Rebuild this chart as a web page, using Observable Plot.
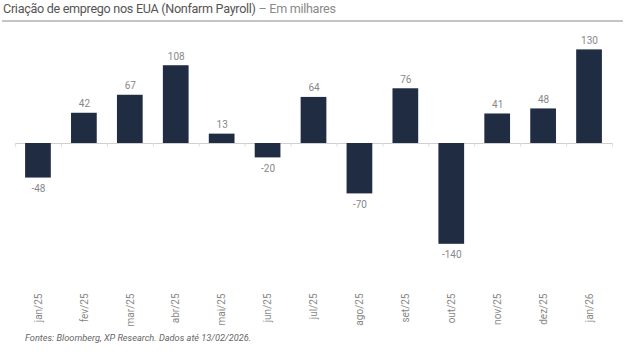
<!DOCTYPE html>
<html>
<head>
<meta charset="utf-8">
<script src="https://cdn.jsdelivr.net/npm/d3@7"></script>
<script src="https://cdn.jsdelivr.net/npm/@observablehq/plot@0.6"></script>
<style>
  html, body { margin: 0; padding: 0; background: #fff; }
  #wrap { position: relative; width: 638px; height: 354px; overflow: hidden; font-family: Roboto, "Noto Sans", sans-serif; }
  #chart { position: absolute; left: 0; top: 0; }
  #title { position: absolute; left: 3px; top: 1px; font-size: 12.6px; letter-spacing: -0.3px; color: #555; white-space: nowrap; }
  #title span { color: #8a8a8a; }
  #rule { position: absolute; left: 2px; top: 19.5px; width: 621px; height: 2px; background: #c4c4c4; }
  #caption { position: absolute; left: 25px; top: 332px; font-size: 9.2px; font-style: italic; color: #666; white-space: nowrap; }
</style>
</head>
<body>
<div id="wrap">
  <div id="chart"></div>
  <div id="title">Criação de emprego nos EUA (Nonfarm Payroll) <span>– Em milhares</span></div>
  <div id="rule"></div>
  <div id="caption">Fontes: Bloomberg, XP Research. Dados até 13/02/2026.</div>
</div>
<script>
const months = ["jan/25","fev/25","mar/25","abr/25","mai/25","jun/25","jul/25","ago/25","set/25","out/25","nov/25","dez/25","jan/26"];
const values = [-48, 42, 67, 108, 13, -20, 64, -70, 76, -140, 41, 48, 130];

const data = months.map((m, i) => ({month: m, value: values[i]}));
const pos = data.filter(d => d.value >= 0);
const neg = data.filter(d => d.value < 0);

const barColor = "#1f2c42";

const chart = Plot.plot({
  width: 638,
  height: 354,
  marginLeft: 15,
  marginRight: 26,
  marginTop: 35,
  marginBottom: 67,
  style: {fontFamily: "Roboto, 'Noto Sans', sans-serif", fontSize: "10px", color: "#888", background: "transparent"},
  x: {domain: months, paddingInner: 0.44, paddingOuter: 0.22, round: false, label: null},
  y: {domain: [-200, 150], axis: null},
  marks: [
    Plot.ruleY([0], {stroke: "#cfcfcf", strokeWidth: 1}),
    Plot.ruleX(months, {x: d => d, dx: -22.96, y1: 0, y2: -5, stroke: "#dcdcdc"}),
    Plot.ruleX(months.slice(-1), {x: d => d, dx: 22.96, y1: 0, y2: -5, stroke: "#dcdcdc"}),
    Plot.barY(data, {x: "month", y: "value", fill: barColor}),
    Plot.text(pos, {x: "month", y: "value", text: d => String(d.value), lineAnchor: "bottom", dy: -6, fill: "#888", fontSize: 10}),
    Plot.text(neg, {x: "month", y: "value", text: d => String(d.value), lineAnchor: "top", dy: 7, fill: "#888", fontSize: 10}),
    Plot.axisX({anchor: "bottom", tickRotate: -90, tickSize: 0, tickPadding: 6, fill: "#888", fontSize: 10, label: null})
  ]
});
document.getElementById("chart").appendChild(chart);
</script>
</body>
</html>
